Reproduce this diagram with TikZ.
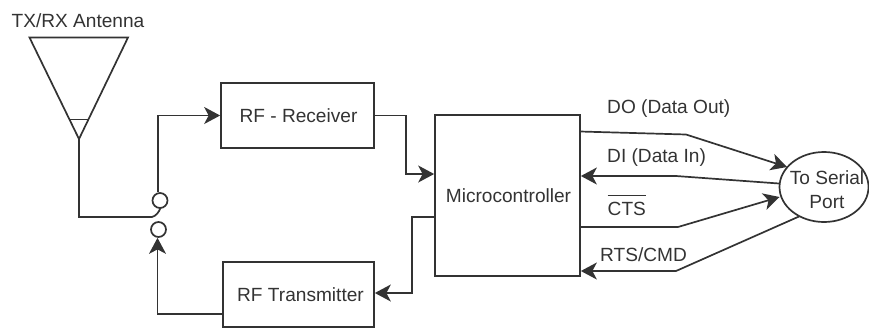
\documentclass[tikz,border=0pt]{standalone}
\usepackage{fontspec}
\setmainfont{Liberation Sans}
\usetikzlibrary{arrows.meta,shapes.geometric}
\definecolor{ink}{HTML}{333333}
\tikzset{
  wire/.style={draw=ink,line width=1.7pt,line join=miter},
  arr/.style={wire,-{Stealth[length=16pt,width=17pt,inset=4.5pt,color=ink]}},
  blockbox/.style={draw=ink,line width=1.7pt,inner sep=0pt,text=ink,font=\fontsize{19.1}{21}\selectfont,align=center},
  lab/.style={text=ink,font=\fontsize{19.1}{21}\selectfont,inner sep=0pt},
  contact/.style={circle,draw=ink,line width=1.7pt,inner sep=0pt,fill=white}
}
\begin{document}
\begin{tikzpicture}[x=1pt,y=-1pt]
\useasboundingbox (0,0) rectangle (869,327);
% antenna
\coordinate (tl) at (29.5,37.5);
\coordinate (tr) at (128,37.5);
\coordinate (tip) at (79,139);
\draw[wire] (tl) -- (tr) -- (tip) -- cycle;
\coordinate (il) at (69,119.5);
\coordinate (ir) at (88.5,119.5);
\draw[wire] (il) -- (ir);
\node[lab] (ant) at (78,20.5) {TX/RX Antenna};
% blocks
\node[blockbox,minimum width=153pt,minimum height=65pt] (rx) at (297.5,115.5) {\hspace*{2pt}RF - Receiver};
\node[blockbox,minimum width=151pt,minimum height=65pt] (tx) at (298.5,294.5) {\hspace*{4pt}RF Transmitter};
\node[blockbox,minimum width=145pt,minimum height=161pt] (mcu) at (507.5,195.5) {\hspace*{2pt}Microcontroller};
\node[draw=ink,line width=1.7pt,ellipse,inner sep=0pt,minimum width=89pt,minimum height=70pt] (port) at (824,187) {};
\node[lab,align=center] (portlab) at (827,189.5) {To Serial\\[3pt]Port};
% switch
\node[contact,minimum size=15pt] (s1) at (160,200.5) {};
\node[contact,minimum size=15pt] (s2) at (158.5,229.5) {};
% antenna feed
\coordinate (a1) at (79,217);
\coordinate (a2) at (152,217);
\coordinate (a3) at (160.5,208);
\draw[wire] (tip) -- (a1) -- (a2) .. controls (156,216) and (159,212) .. (a3);
% rx path
\coordinate (r1) at (158,115.5);
\draw[arr] (s1.north -| r1) -- (r1) -- (rx.west);
% tx path
\coordinate (t0) at (223,314);
\coordinate (t1) at (157.5,314);
\draw[arr] (t0) -- (t1) -- (s2.south -| t1);
% rx to mcu
\coordinate (m1) at (406,115.5);
\coordinate (m2) at (406,174);
\draw[arr] (rx.east) -- (m1) -- (m2) -- (mcu.west |- m2);
% mcu to tx
\coordinate (m3) at (412,217);
\coordinate (m4) at (412,293);
\draw[arr] (mcu.west |- m3) -- (m3) -- (m4) -- (tx.east |- m4);
% serial lines
\coordinate (do0) at (580,131.5);
\coordinate (do1) at (686,134.5);
\coordinate (do2) at (787,167);
\draw[arr] (do0) -- (do1) -- (do2);
\coordinate (di0) at (779,183.5);
\coordinate (di1) at (676,176);
\draw[arr] (di0) -- (di1) -- (mcu.east |- di1);
\coordinate (ct0) at (580,227);
\coordinate (ct1) at (678,227);
\coordinate (ct2) at (779.5,197);
\draw[arr] (ct0) -- (ct1) -- (ct2);
\coordinate (rt0) at (799,216.5);
\coordinate (rt1) at (676,271);
\draw[arr] (rt0) -- (rt1) -- (mcu.east |- rt1);
% labels
\node[lab,anchor=west] (ldo) at (607,108.5) {DO (Data Out)};
\node[lab,anchor=west] (ldi) at (607,157.5) {DI (Data In)};
\node[lab,anchor=base west] (lct) at (607.5,215) {\vbox{\hrule height 1.6pt\kern 5.5pt\hbox{CTS}}};
\node[lab,anchor=west] (lrt) at (600,255) {RTS/CMD};
\end{tikzpicture}
\end{document}
